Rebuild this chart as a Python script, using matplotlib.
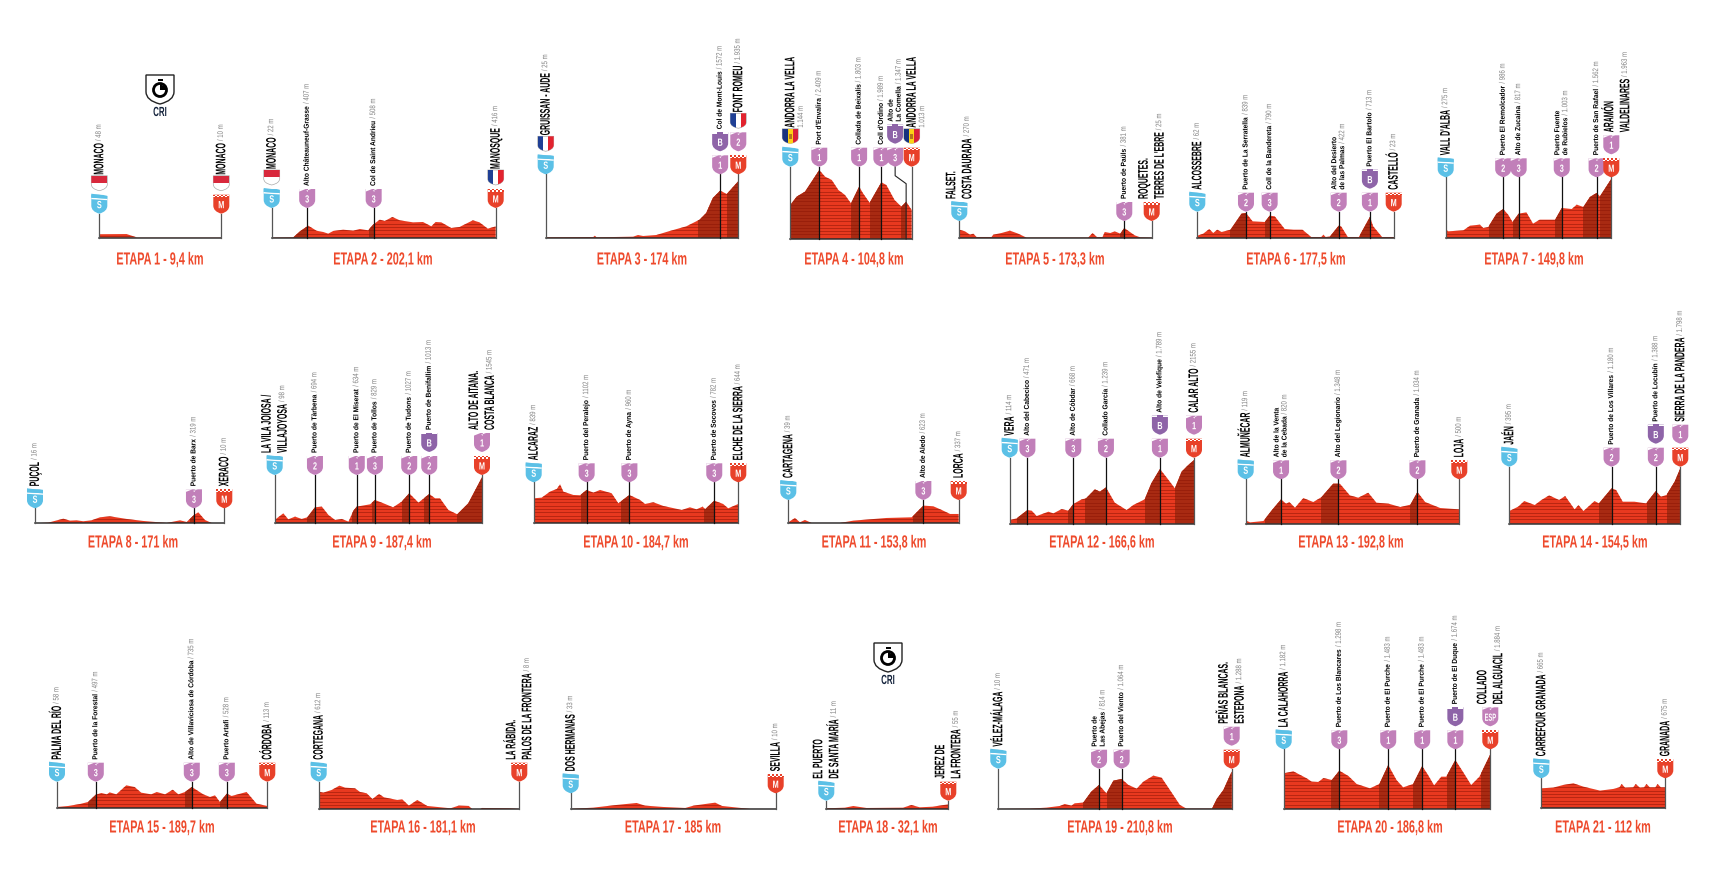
import numpy as np
import matplotlib
matplotlib.use('Agg')
import matplotlib.pyplot as plt
from matplotlib.patches import Polygon, Rectangle, Circle, PathPatch
from matplotlib.path import Path
from matplotlib.patheffects import AbstractPathEffect
from matplotlib.text import Text
from matplotlib.transforms import Affine2D, Bbox

W, H = 1720, 880
PX_PER_M = 0.029
FONT = ['Liberation Sans', 'DejaVu Sans']

RED = '#e8391f'
DARK = '#a82a12'
STRIPE = '#8c1505'
PINK = '#c17fb9'
BLUE = '#5bc0e6'
PURPLE = '#8e64a8'
TITLE = '#ee4a2c'
GREY = '#808080'

# ---- stage data: km, altitude (m), climbs, pins ----
dist = [9.4, 202.1, 174, 104.8, 173.3, 177.5, 149.8, 171, 187.4, 184.7, 153.8,
        166.6, 192.8, 154.5, 189.7, 181.1, 185, 32.1, 210.8, 186.8, 112]
title_km = ['9,4', '202,1', '174', '104,8', '173,3', '177,5', '149,8', '171', '187,4', '184,7', '153,8',
            '166,6', '192,8', '154,5', '189,7', '181,1', '185', '32,1', '210,8', '186,8', '112']

km_01 = [0, 2.1, 2.9, 9.4]
alt_01 = [120, 126, 10, 10]
km_02 = [0, 19.5, 25.5, 33, 40.5, 46.5, 51, 55.5, 64.5, 73.5, 79.5, 87, 91.5, 97.5, 102, 108.9, 115.5, 127.5,
         136.5, 144, 147.9, 153, 162, 169.5, 181.5, 187.5, 195, 202.1]
alt_02 = [10, 23, 230, 425, 250, 207, 150, 242, 287, 253, 310, 265, 460, 633, 587, 725, 610, 540,
          552, 402, 552, 540, 345, 380, 610, 540, 322, 402]
km_03 = [0, 43, 44.4, 46, 79, 83.4, 88, 100, 112, 127, 139, 145, 151, 157.6, 163.6, 174]
alt_03 = [23, 35, 80, 23, 46, 103, 69, 103, 241, 402, 632, 862, 1380, 1633, 1518, 1960]
km_04 = [0, 5.5, 12.7, 18.4, 25, 30, 35.8, 41.5, 47.2, 52.4, 59.4, 62.8, 68.5, 78.6, 82.9, 90, 95.9, 100, 104.8]
alt_04 = [1173, 1460, 1633, 1978, 2380, 2150, 2035, 1690, 1518, 1230, 1805, 1575, 1250, 1955, 1863, 1345, 1115, 1288, 1000]
km_05 = [0, 5.1, 9.6, 12.6, 15.6, 29, 30.6, 38, 45.6, 53, 60.6, 116, 120, 124, 129, 131, 136, 140, 145, 148.6, 152, 158, 163, 173.3]
alt_05 = [288, 230, 115, 150, 35, 35, 115, 172, 253, 150, 12, 12, 172, 35, 35, 207, 172, 230, 150, 345, 253, 92, 23, 12]
km_06 = [0, 5.4, 10.8, 14.4, 18, 22, 30, 40, 44, 50, 61, 65.4, 70, 79, 87, 95, 103, 112, 114, 116, 120, 127.8, 130,
         136, 146, 156, 159, 167, 177.5]
alt_06 = [80, 150, 310, 172, 287, 207, 287, 840, 862, 575, 552, 770, 747, 310, 287, 287, 35, 35, 115, 35, 57, 425, 402,
          35, 35, 725, 402, 35, 35]
km_07 = [0, 2.4, 16, 22, 31, 34, 38.5, 46, 52, 56.5, 60.5, 66, 73, 79, 85, 99, 105, 114, 118.5, 124.5, 130.5, 136.5, 139.5, 149.8]
alt_07 = [287, 230, 265, 425, 460, 345, 380, 840, 1000, 805, 552, 840, 885, 495, 632, 632, 1035, 1000, 1150, 1070, 1415,
          1553, 1437, 2040]
km_08 = [0, 12, 25.6, 31.6, 37.6, 43.6, 51, 58.7, 67.7, 82.8, 98, 119, 131, 137, 143.6, 147.5, 153.5, 159.5, 171]
alt_08 = [0, 23, 160, 92, 103, 70, 103, 207, 241, 150, 80, 12, 103, 46, 287, 380, 115, 12, 0]
km_09 = [0, 7.8, 12.3, 18.4, 24.4, 29.5, 36.4, 42.6, 48.6, 54.6, 60.7, 66.7, 71.2, 74.2, 86.3, 90.6, 98.3, 107, 114.8,
         121.6, 130, 139.7, 145, 149.4, 157, 165, 175, 187.4]
alt_09 = [115, 345, 138, 230, 150, 207, 552, 575, 287, 115, 150, 58, 437, 575, 655, 805, 690, 552, 747,
          1035, 713, 1012, 862, 862, 460, 310, 690, 1587]
km_10 = [0, 7.2, 14.7, 20.8, 23.8, 26.8, 35.8, 41.8, 47.8, 53.9, 59.9, 70.4, 76.4, 86.4, 96, 100.5, 108, 117, 133.7,
         141, 147, 152.6, 154.7, 163, 171, 175.6, 184.7]
alt_10 = [862, 885, 1092, 1184, 1345, 1092, 977, 966, 1150, 1058, 1150, 1035, 690, 977, 805, 667, 725, 598, 460,
          552, 483, 575, 483, 782, 667, 517, 667]
km_11 = [0, 6, 10.5, 15, 21, 46.7, 58.7, 88.8, 111.4, 117.4, 121.9, 130.9, 138.5, 146, 153.8]
alt_11 = [35, 184, 35, 115, 12, 12, 92, 184, 207, 437, 610, 587, 460, 322, 322]
km_12 = [0, 6.3, 16, 19.9, 24.4, 35, 39.5, 47, 53, 57.5, 65, 69, 77, 81.6, 87, 95, 105.7, 111.7, 122, 128, 135.8, 141.8,
         149.3, 155.4, 160.8, 166.6]
alt_12 = [127, 184, 471, 448, 264, 414, 356, 506, 448, 678, 839, 874, 1184, 1104, 1253, 724, 471, 644, 839, 1391, 1886,
          1598, 1219, 1794, 2001, 2196]
km_13 = [0, 3.9, 16, 23.5, 31.9, 36.4, 39.4, 44.5, 52, 61, 68.5, 79, 85, 94, 101.6, 110.6, 118, 129, 139.5, 148.6, 155, 162, 175.6, 192.8]
alt_13 = [115, 46, 92, 460, 840, 690, 747, 552, 885, 747, 920, 1380, 1380, 977, 897, 1069, 725, 690, 575, 655, 1092, 747, 540, 495]
km_14 = [0, 8, 13.5, 23, 29, 36, 45, 50.5, 59, 62.5, 67, 77, 81, 92.4, 96.5, 102.5, 110, 113, 123.6, 132.4, 137, 142, 149.4, 154.5]
alt_14 = [437, 587, 782, 644, 817, 977, 817, 954, 494, 644, 437, 782, 701, 1219, 1161, 759, 759, 759, 701, 1127, 931, 989, 1449, 1909]
km_15 = [0, 10, 20.8, 28, 35, 40, 45, 47.5, 53.5, 62.5, 70, 76, 85, 90, 97.5, 104.4, 109.5, 115.5, 121.6, 132, 138, 142.5,
         147, 153.2, 157.5, 171, 180, 189.7]
alt_15 = [35, 69, 138, 207, 460, 517, 471, 540, 471, 782, 724, 529, 471, 552, 471, 632, 471, 552, 724, 471, 380, 437,
          207, 494, 414, 552, 149, 69]
km_16 = [0, 4.2, 11.7, 18.7, 23.8, 32.8, 37.3, 43.3, 48.5, 54.5, 58.9, 70.9, 75.4, 81.4, 89, 98, 119, 126.4, 135.5, 138.5,
         146, 147.5, 171.6, 181.1]
alt_16 = [610, 575, 667, 816, 747, 724, 598, 552, 356, 529, 414, 322, 345, 127, 322, 115, 35, 127, 115, 12, 12, 46, 35, 12]
km_17 = [0, 20.5, 41.5, 59.5, 67, 83.7, 103.4, 110.9, 130.4, 136.5, 162, 185]
alt_17 = [12, 58, 150, 218, 127, 80, 46, 127, 230, 115, 12, 12]
km_18 = [0, 4.9, 7.1, 10.6, 20.2, 22.4, 24.6, 28, 32.1]
alt_18 = [23, 46, 103, 35, 46, 138, 58, 80, 161]
km_19 = [0, 28.6, 43.6, 55.6, 60, 66, 69, 76.7, 84, 91, 97.6, 104, 111.4, 117.5, 125, 131, 140, 147.5, 155, 164, 170, 193,
         197.3, 203.3, 210.8]
alt_19 = [12, 23, 58, 115, 184, 127, 207, 230, 610, 840, 552, 989, 1046, 840, 713, 954, 1161, 1092, 667, 150, 23, 23,
          356, 667, 1300]
km_20 = [0, 8.7, 20.8, 25.3, 31.3, 36, 43.5, 50.3, 58.5, 66, 78, 86.5, 94.5, 102, 108, 117, 125.2, 130.5, 136, 142.5, 147,
         155.2, 162, 169.5, 177, 186.8]
alt_20 = [1230, 1300, 1058, 943, 932, 1069, 1000, 1322, 1138, 862, 713, 862, 1518, 1000, 747, 862, 1483, 1173, 816, 1115,
          1115, 1690, 1288, 828, 1115, 1886]
km_21 = [0, 10.8, 19.9, 29, 38, 53, 65, 70.5, 72.6, 75.6, 83, 85.3, 89, 92.8, 95, 98, 103, 105, 108, 112]
alt_21 = [690, 713, 805, 862, 747, 610, 667, 724, 839, 713, 724, 839, 713, 724, 839, 724, 724, 839, 724, 724]

climbs = [
    [], [(19.5, 32), (88, 92)], [(138, 157.6), (163.6, 174)],
    [(0, 25), (52.4, 59.4), (68.5, 78.6), (95.9, 100)], [(145, 149)],
    [(30, 44), (61, 65.4), (120, 127.8), (147, 156)],
    [(39.5, 52), (60.5, 66), (99, 105), (124.5, 136.5), (139.5, 149.8)],
    [(140, 144.5)],
    [(29.5, 36.4), (69.5, 74.2), (87.7, 90.6), (114.7, 121.6), (134.8, 139.7), (165, 187.4)],
    [(42.7, 47.8), (78.9, 86.4), (153.8, 163)], [(112.3, 121.9)],
    [(6.9, 16), (53, 57.5), (68, 87), (122, 135.8), (149.3, 166.6)],
    [(17.5, 31.9), (68, 83.7), (148.6, 155)],
    [(81, 92.4), (124, 132.4), (142.7, 154.5)],
    [(28.3, 35), (115.6, 121.6), (147.2, 153.2)], [], [], [],
    [(76.7, 91), (98.4, 111.4), (193, 210.8)],
    [(42.7, 50.3), (86, 94.5), (117, 125.2), (148, 155.2), (178, 186.8)], [],
]

# pin = km, badges bottom to top, label lines, altitude text
pins_01 = [(0, ['S', 'MC'], ['MONACO'], '/ 48 m'), (9.4, ['M', 'MC'], ['MONACO'], '/ 10 m')]
pins_02 = [(0, ['S', 'MC'], ['MONACO'], '/ 22 m'), (32, ['3'], ['Alto Châteauneuf-Grasse'], '/ 407 m'),
           (92, ['3'], ['Col de Saint Andrieu'], '/ 508 m'), (202.1, ['M', 'FR'], ['MANOSQUE'], '/ 416 m')]
pins_03 = [(0, ['S', 'FR'], ['GRUISSAN - AUDE'], '/ 25 m'), (157.6, ['1', 'B'], ['Col de Mont-Louis'], '/ 1572 m'),
           (174, ['M', '2', 'FR'], ['FONT ROMEU'], '/ 1.935 m')]
pins_04 = [(0, ['S', 'AD'], ['ANDORRA LA VELLA', ''], '1.144 m'), (25, ['1'], ["Port d'Envalira"], '/ 2.409 m'),
           (59.4, ['1'], ['Collada de Beixalís'], '/ 1.803 m'), (78.6, ['1'], ["Coll d'Ordino"], '/ 1.989 m'),
           (100, ['3', 'B'], ['Alto de', 'La Comella'], '/ 1.347 m'), (104.8, ['M', 'AD'], ['ANDORRA LA VELLA', ''], '1.013 m')]
pins_05 = [(0, ['S'], ['FALSET.', 'COSTA DAURADA'], '/ 270 m'), (148.6, ['3'], ['Puerto de Paüls'], '/ 381 m'),
           (173.3, ['M'], ['ROQUETES.', "TERRES DE L'EBRE"], '/ 25 m')]
pins_06 = [(0, ['S'], ['ALCOSSEBRE'], '/ 62 m'), (44, ['2'], ['Puerto de La Serratella'], '/ 839 m'),
           (65.4, ['3'], ['Coll de la Bandereta'], '/ 790 m'), (127.8, ['2'], ['Alto del Desierto', 'de las Palmas'], '/ 422 m'),
           (156, ['1', 'B'], ['Puerto El Bartolo'], '/ 713 m'), (177.5, ['M'], ['CASTELLÓ'], '/ 23 m')]
pins_07 = [(0, ['S'], ["VALL D'ALBA"], '/ 275 m'), (52, ['2'], ['Puerto El Remolcador'], '/ 986 m'),
           (66, ['3'], ['Alto de Zucaina'], '/ 817 m'), (105, ['3'], ['Puerto Fuente', 'de Rubielos'], '/ 1.003 m'),
           (136.5, ['2'], ['Puerto de San Rafael'], '/ 1.562 m'), (149.8, ['M', '1'], ['ARAMÓN', 'VALDELINARES'], '/ 1.963 m')]
pins_08 = [(0, ['S'], ['PUÇOL'], '/ 16 m'), (143.6, ['3'], ['Puerto de Barx'], '/ 319 m'), (171, ['M'], ['XERACO'], '/ 10 m')]
pins_09 = [(0, ['S'], ['LA VILA JOIOSA /', 'VILLAJOYOSA'], '/ 98 m'), (36.4, ['2'], ['Puerto de Tàrbena'], '/ 694 m'),
           (74.2, ['1'], ['Puerto de El Miserat'], '/ 634 m'), (90.6, ['3'], ['Puerto de Tollos'], '/ 829 m'),
           (121.6, ['2'], ['Puerto de Tudons'], '/ 1027 m'), (139.7, ['2', 'B'], ['Puerto de Benifallim'], '/ 1013 m'),
           (187.4, ['M', '1'], ['ALTO DE AITANA.', 'COSTA BLANCA'], '/ 1545 m')]
pins_10 = [(0, ['S'], ['ALCARAZ'], '/ 839 m'), (47.8, ['3'], ['Puerto del Peralejo'], '/ 1102 m'),
           (86.4, ['3'], ['Puerto de Ayna'], '/ 960 m'), (163, ['3'], ['Puerto de Socovos'], '/ 782 m'),
           (184.7, ['M'], ['ELCHE DE LA SIERRA'], '/ 644 m')]
pins_11 = [(0, ['S'], ['CARTAGENA'], '/ 39 m'), (121.9, ['3'], ['Alto de Aledo'], '/ 623 m'), (153.8, ['M'], ['LORCA'], '/ 337 m')]
pins_12 = [(0, ['S'], ['VERA'], '/ 114 m'), (16, ['3'], ['Alto del Cabecico'], '/ 471 m'),
           (57.5, ['3'], ['Alto de Cóbdar'], '/ 668 m'), (87, ['2'], ['Collado García'], '/ 1.239 m'),
           (135.8, ['1', 'B'], ['Alto de Velefique'], '/ 1.789 m'), (166.6, ['M', '1'], ['CALAR ALTO'], '/ 2155 m')]
pins_13 = [(0, ['S'], ['ALMUÑÉCAR'], '/ 119 m'), (31.9, ['1'], ['Alto de la Venta', 'de la Cebada'], '/ 820 m'),
           (83.7, ['2'], ['Alto del Legionario'], '/ 1.348 m'), (155, ['2'], ['Puerto de Granada'], '/ 1.034 m'),
           (192.8, ['M'], ['LOJA'], '/ 500 m')]
pins_14 = [(0, ['S'], ['JAÉN'], '/ 395 m'), (92.4, ['2'], ['Puerto de Los Villares'], '/ 1.180 m'),
           (132.4, ['2', 'B'], ['Puerto de Locubín'], '/ 1.388 m'), (154.5, ['M', '1'], ['SIERRA DE LA PANDERA'], '/ 1.798 m')]
pins_15 = [(0, ['S'], ['PALMA DEL RÍO'], '/ 58 m'), (35, ['3'], ['Puerto de la Forestal'], '/ 497 m'),
           (121.6, ['3'], ['Alto de Villaviciosa de Córdoba'], '/ 735 m'), (153.2, ['3'], ['Puerto Artafi'], '/ 528 m'),
           (189.7, ['M'], ['CÓRDOBA'], '/ 113 m')]
pins_16 = [(0, ['S'], ['CORTEGANA'], '/ 612 m'), (181.1, ['M'], ['LA RÁBIDA.', 'PALOS DE LA FRONTERA'], '/ 8 m')]
pins_17 = [(0, ['S'], ['DOS HERMANAS'], '/ 33 m'), (185, ['M'], ['SEVILLA'], '/ 10 m')]
pins_18 = [(0, ['S'], ['EL PUERTO', 'DE SANTA MARÍA'], '/ 11 m'), (32.1, ['M'], ['JEREZ DE', 'LA FRONTERA'], '/ 55 m')]
pins_19 = [(0, ['S'], ['VÉLEZ-MÁLAGA'], '/ 10 m'), (91, ['2'], ['Puerto de', 'Las Abejas'], '/ 814 m'),
           (111.4, ['2'], ['Puerto del Viento'], '/ 1.064 m'), (210.8, ['M', '1'], ['PEÑAS BLANCAS.', 'ESTEPONA'], '/ 1.288 m')]
pins_20 = [(0, ['S'], ['LA CALAHORRA'], '/ 1.182 m'), (50.3, ['3'], ['Puerto de Los Blancares'], '/ 1.298 m'),
           (94.5, ['1'], ['Puerto de El Purche'], '/ 1.483 m'), (125.2, ['1'], ['Puerto de El Purche'], '/ 1.483 m'),
           (155.2, ['1', 'B'], ['Puerto de El Duque'], '/ 1.674 m'), (186.8, ['M', 'ESP'], ['COLLADO', 'DEL ALGUACIL'], '/ 1.884 m')]
pins_21 = [(0, ['S'], ['CARREFOUR GRANADA'], '/ 665 m'), (112, ['M'], ['GRANADA'], '/ 675 m')]

kms = [km_01, km_02, km_03, km_04, km_05, km_06, km_07, km_08, km_09, km_10, km_11,
       km_12, km_13, km_14, km_15, km_16, km_17, km_18, km_19, km_20, km_21]
alts = [alt_01, alt_02, alt_03, alt_04, alt_05, alt_06, alt_07, alt_08, alt_09, alt_10, alt_11,
        alt_12, alt_13, alt_14, alt_15, alt_16, alt_17, alt_18, alt_19, alt_20, alt_21]
pins = [pins_01, pins_02, pins_03, pins_04, pins_05, pins_06, pins_07, pins_08, pins_09, pins_10, pins_11,
        pins_12, pins_13, pins_14, pins_15, pins_16, pins_17, pins_18, pins_19, pins_20, pins_21]

# ---- layout in reference pixels ----
x_start = [99.3, 271.7, 545.7, 790.3, 959.3, 1197.3, 1445.7, 35, 274.7, 533.7, 788.3,
           1009.7, 1245.7, 1509.3, 57, 318.7, 570.7, 826.3, 998.3, 1283.7, 1541.3]
x_end = [221.3, 495.7, 738.3, 911.7, 1151.7, 1393.7, 1611.3, 224.3, 482, 738.3, 958.7,
         1194, 1459.3, 1680.3, 267.3, 519.3, 775.7, 948.3, 1231.7, 1490.3, 1665.3]
y_base = [237.7, 238, 238, 239, 238, 238, 238, 523.3, 523.3, 523.3, 523.3,
          523.7, 523.7, 523.7, 808, 809.3, 809.3, 809, 809.3, 809, 808.3]
y_tip = [213.7, 208, 174.3, 166.7, 221, 211.7, 177.3, 508.3, 475, 482.3, 500,
         457.7, 479.3, 466.7, 781.7, 781.7, 793.3, 800.7, 768.7, 749.3, 778.3]
title_x = [160, 383, 642, 854, 1055, 1296, 1534, 133, 382, 636, 874,
           1102, 1351, 1595, 162, 423, 673, 888, 1120, 1390, 1603]
title_y = [260] * 7 + [543] * 7 + [828] * 7
badge_shift = {(3, 4): -11}
label_shift = {(6, 5): 6}
cri_stages = {0: (160, 75), 17: (888, 643)}

fig = plt.figure(figsize=(W / 100, H / 100), dpi=100, facecolor='white')
ov = fig.add_axes([0, 0, 1, 1], zorder=5)
ov.set_xlim(0, W)
ov.set_ylim(H, 0)
ov.axis('off')
ov.patch.set_alpha(0)
renderer = fig.canvas.get_renderer()


class Squeeze(AbstractPathEffect):
    # no condensed font is installed, so narrow the glyphs along the baseline
    def __init__(self, sx, centered):
        super().__init__()
        self.sx = sx
        self.centered = centered

    def draw_path(self, renderer, gc, tpath, affine, rgbFace=None):
        mid = tpath.get_extents().intervalx.mean() if self.centered else 0
        squeeze = Affine2D().translate(-mid, 0).scale(self.sx, 1).translate(mid, 0)
        renderer.draw_path(gc, tpath, squeeze + affine, rgbFace)


class NarrowText(Text):
    def __init__(self, x, y, s, sx=1.0, **kw):
        super().__init__(x, y, s, **kw)
        self.sx = sx
        self.set_path_effects([Squeeze(sx, kw.get('ha') == 'center')])

    def get_window_extent(self, renderer=None, dpi=None):
        bb = super().get_window_extent(renderer, dpi)
        if self.get_rotation() == 90:
            return Bbox.from_extents(bb.x0, bb.y0, bb.x1, bb.y0 + bb.height * self.sx)
        mid = (bb.x0 + bb.x1) / 2
        half = bb.width * self.sx / 2
        return Bbox.from_extents(mid - half, bb.y0, mid + half, bb.y1)


def put_text(x, y, s, sx=1.0, **kw):
    t = NarrowText(x, y, s, sx=sx, family=FONT, **kw)
    ov.add_artist(t)
    return t


def shield_path(cx, tip, w, h):
    # outline with straight sides that curve into the bottom point
    l, r, top = cx - w / 2, cx + w / 2, tip - h
    verts = [(l, top), (r, top), (r, tip - h * 0.42), (r, tip - h * 0.12), (cx, tip),
             (l, tip - h * 0.12), (l, tip - h * 0.42), (l, top)]
    codes = [Path.MOVETO, Path.LINETO, Path.LINETO, Path.CURVE3, Path.CURVE3,
             Path.CURVE3, Path.CURVE3, Path.CLOSEPOLY]
    return Path(verts, codes)


def draw_flag(cx, tip, kind):
    w, h = 16, 15
    outline = shield_path(cx, tip, w, h)
    base = PathPatch(outline, fc='white', ec='#aaaaaa', lw=0.5, zorder=3)
    ov.add_patch(base)
    top = tip - h
    if kind == 'MC':
        bars = [(cx - w / 2, top, w, h / 2, '#d8283c')]
    elif kind == 'FR':
        bars = [(cx - w / 2, top, w / 3, h, '#1f3f94'), (cx + w / 6, top, w / 3, h, '#e2232f')]
    else:
        bars = [(cx - w / 2, top, w / 3, h, '#17327f'), (cx - w / 6, top, w / 3, h, '#fcd116'),
                (cx + w / 6, top, w / 3, h, '#d8203a'), (cx - 1.5, top + 5, 3, 5, '#b5751c')]
    for x, y, bw, bh, c in bars:
        r = Rectangle((x, y), bw, bh, fc=c, ec='none', zorder=4)
        ov.add_patch(r)
        r.set_clip_path(base)
    return top


def draw_badge(cx, tip, kind):
    w, h = 16, 19
    top = tip - h
    color = {'S': BLUE, 'M': '#e8412a', 'B': PURPLE}.get(kind, PINK)
    ov.add_patch(PathPatch(shield_path(cx, tip, w, h), fc=color, ec='none', zorder=3))
    if kind == 'S':
        ov.add_patch(Polygon([(cx - w / 2, top + 3), (cx + w / 2, top + 4), (cx + w / 2, top + 5.5), (cx - w / 2, top + 4.5)],
                             fc='white', ec='none', zorder=4))
        ov.add_patch(Polygon([(cx - w / 2, top - 1), (cx + w / 2, top + 1), (cx + w / 2, top + 4), (cx - w / 2, top + 3)],
                             fc=color, ec='none', zorder=4))
        ov.add_patch(Polygon([(cx, top - 1), (cx + w / 2 + 1, top - 1), (cx + w / 2 + 1, top + 1)], fc='white', ec='none', zorder=4))
    elif kind == 'M':
        ov.add_patch(Rectangle((cx - w / 2, top), w, 2.6, fc='white', ec='none', zorder=4))
        for i in range(8):
            ov.add_patch(Rectangle((cx - w / 2 + i * 2, top + (i % 2) * 1.3), 2, 1.3, fc=color, ec='none', zorder=5))
    elif kind == 'B':
        ov.add_patch(Rectangle((cx - w / 2, top), w, 1.4, fc='white', ec='none', zorder=4))
        ov.add_patch(Rectangle((cx - 3, top - 0.2), 6, 1.8, fc=color, ec='none', zorder=5))
    else:
        ov.add_patch(Polygon([(cx - w / 2, top), (cx - 1.5, top), (cx - w / 2, top + 2.6)], fc='white', ec='none', zorder=4))
        ov.add_patch(Polygon([(cx - 1, top + 1.6), (cx + 0.8, top + 2.8), (cx + 0.8, top + 1.2)], fc='white', ec='none', zorder=4))
        ov.add_patch(Polygon([(cx + 0.8, top), (cx + 4, top), (cx + 0.8, top + 1.2)], fc='white', ec='none', zorder=4))
    put_text(cx, tip - 8.5, kind, sx=0.55 if kind == 'ESP' else 0.7, color='white', fontsize=7.5, fontweight='bold',
             ha='center', va='center', zorder=6)
    return top


def draw_label(cx, bottom, lines, meta):
    big = lines[0].upper() == lines[0]
    gap = 16 if big else 8
    named = [s for s in lines if s]
    last = None
    for i, s in enumerate(named):
        x = cx + (i - (len(named) - 1) / 2) * gap
        last = put_text(x, bottom, s, sx=0.5 if big else 0.92, rotation=90, color='black', fontsize=10 if big else 5.2,
                        fontweight='bold', ha='left', va='center', rotation_mode='anchor', zorder=6)
    x = cx + (len(named) - 1) / 2 * gap
    if lines[-1] == '':
        put_text(x + 11, bottom, meta, sx=0.75, rotation=90, color=GREY, fontsize=5.8,
                 ha='left', va='center', rotation_mode='anchor', zorder=6)
    else:
        bb = last.get_window_extent(renderer)
        put_text(x, H - bb.y1 - 2, meta, sx=0.75, rotation=90, color=GREY, fontsize=5.8,
                 ha='left', va='center', rotation_mode='anchor', zorder=6)


def draw_cri(cx, top):
    w, h = 28, 29
    ov.add_patch(PathPatch(shield_path(cx, top + h, w, h), fc='white', ec='#222222', lw=1, zorder=3))
    ov.add_patch(Circle((cx, top + 15), 6.5, fc='white', ec='black', lw=2, zorder=4))
    ov.add_patch(Rectangle((cx - 2.5, top + 4.5), 5, 2, fc='black', zorder=4))
    ov.add_patch(Polygon([(cx, top + 15), (cx, top + 9), (cx + 6, top + 12), (cx + 6, top + 15)], fc='black', zorder=5))
    put_text(cx, top + 38, 'CRI', sx=0.6, color='#14233c', fontsize=9.5, fontweight='bold', ha='center', va='center')


def draw_stage(i):
    d = dist[i]
    x0, x1, yb = x_start[i], x_end[i], y_base[i]
    ax_h = 90
    ax = fig.add_axes([x0 / W, 1 - yb / H, (x1 - x0) / W, ax_h / H], zorder=2)
    ax.set_xlim(0, d)
    ax.set_ylim(0, ax_h / PX_PER_M)
    ax.axis('off')
    ax.patch.set_alpha(0)

    km, alt = np.array(kms[i]), np.array(alts[i])
    outline = Polygon(np.column_stack([np.r_[0, km, d], np.r_[0, alt, 0]]), fc=RED, ec='none', zorder=1)
    ax.add_patch(outline)
    for a, b in climbs[i]:
        ax.axvspan(a, b, fc=DARK, ec='none', zorder=2).set_clip_path(outline)
    levels = np.arange(1.2 / PX_PER_M, alt.max(), 3.3 / PX_PER_M)
    ax.hlines(levels, 0, d, color=STRIPE, lw=0.6, alpha=0.6, zorder=3).set_clip_path(outline)
    ax.plot([0, d], [0, 0], color='#333333', lw=1.1, clip_on=False, zorder=4)

    for j, (pin_km, stack, lines, meta) in enumerate(pins[i]):
        px = ax.transData.transform((pin_km, 0))[0]
        cx = px + badge_shift.get((i, j), 0)
        tip = y_tip[i]
        if cx != px:
            ov.plot([cx, cx, px, px], [tip, tip + 9, tip + 17, yb], color='#222222', lw=0.8, zorder=2)
        else:
            ov.plot([px, px], [tip, yb], color='#555555' if pin_km in (0, d) else '#111111', lw=0.9, zorder=2)
        y = tip
        for kind in stack:
            if kind in ('MC', 'FR', 'AD'):
                top = draw_flag(cx, y, kind)
                y = top - 2
            else:
                top = draw_badge(cx, y, kind)
                y = top - 4
        draw_label(cx + label_shift.get((i, j), 0), y + 1, lines, meta)

    put_text(title_x[i], title_y[i], f'ETAPA {i + 1} - {title_km[i]} km', sx=0.62, color=TITLE, fontsize=12.6,
             fontweight='bold', ha='center', va='center')
    if i in cri_stages:
        draw_cri(*cri_stages[i])


for i in range(len(dist)):
    draw_stage(i)

fig.savefig('out.png', dpi=100)
